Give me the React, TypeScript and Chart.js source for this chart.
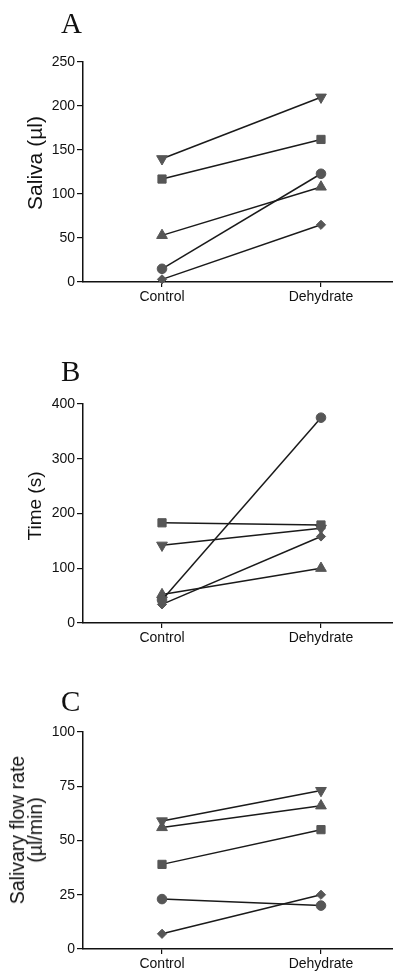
import React, { useEffect, useRef } from 'react';
import { Chart, registerables } from 'chart.js';

Chart.register(...registerables);

// ---- data ----
const categories = ['Control', 'Dehydrate'];

// Panel A: Saliva (µl)
const salivaTriangleDown = [140, 210];
const salivaSquare = [117, 162];
const salivaTriangleUp = [53, 108];
const salivaCircle = [15, 123];
const salivaDiamond = [3, 65];

// Panel B: Time (s)
const timeCircle = [42, 375];
const timeSquare = [183, 179];
const timeTriangleDown = [142, 173];
const timeTriangleUp = [52, 100];
const timeDiamond = [34, 158];

// Panel C: Salivary flow rate (µl/min)
const flowTriangleDown = [59, 73];
const flowTriangleUp = [56, 66];
const flowSquare = [39, 55];
const flowCircle = [23, 20];
const flowDiamond = [7, 25];

const yTicksA = { max: 250, step: 50 };
const yTicksB = { max: 400, step: 100 };
const yTicksC = { max: 100, step: 25 };

// ---- styles ----
const FONT = '"Liberation Sans", Arial, Helvetica, sans-serif';
const SERIF = '"Liberation Serif", "Times New Roman", serif';
const LINE = '#1a1a1a';
const MARK = '#565656';
const AXIS = '#111111';

type MarkerKey = 'circle' | 'square' | 'triangleUp' | 'triangleDown' | 'diamond';
const MARKERS: Record<MarkerKey, { style: string; rotation: number; radius: number }> = {
  circle: { style: 'circle', rotation: 0, radius: 4.8 },
  square: { style: 'rect', rotation: 0, radius: 5.8 },
  triangleUp: { style: 'triangle', rotation: 0, radius: 6.2 },
  triangleDown: { style: 'triangle', rotation: 180, radius: 6.2 },
  diamond: { style: 'rectRot', rotation: 0, radius: 4.6 },
};

type Series = { marker: MarkerKey; values: number[] };

const X_MIN = -0.497;
const X_MAX = 1.453;

function Panel(props: {
  top: number;
  height: number;
  padTop: number;
  xHeight: number;
  yMax: number;
  yStep: number;
  series: Series[];
}) {
  const ref = useRef<HTMLCanvasElement>(null);
  const { top, height, padTop, xHeight, yMax, yStep, series } = props;
  useEffect(() => {
    const canvas = ref.current;
    if (!canvas) return;
    const chart = new Chart(canvas, {
      type: 'line',
      data: {
        datasets: series.map((s) => {
          const m = MARKERS[s.marker];
          return {
            label: s.marker,
            data: s.values.map((v, i) => ({ x: i, y: v })),
            borderColor: LINE,
            borderWidth: 1.5,
            backgroundColor: MARK,
            pointBackgroundColor: MARK,
            pointBorderColor: MARK,
            pointBorderWidth: 1,
            pointStyle: m.style as any,
            pointRotation: m.rotation,
            pointRadius: m.radius,
            fill: false,
            tension: 0,
            clip: false,
          };
        }),
      },
      options: {
        responsive: false,
        animation: false,
        events: [],
        layout: { autoPadding: false, padding: { top: padTop, left: 0, right: 0, bottom: 0 } },
        plugins: { legend: { display: false }, tooltip: { enabled: false } },
        scales: {
          x: {
            type: 'linear',
            min: X_MIN,
            max: X_MAX,
            afterBuildTicks: (s: any) => {
              s.ticks = categories.map((_, i) => ({ value: i }));
            },
            afterFit: (s: any) => {
              s.height = xHeight;
              s.paddingLeft = 0;
              s.paddingRight = 0;
              s.paddingTop = 0;
              s.paddingBottom = 0;
            },
            ticks: {
              callback: (v: any) => categories[v as number] ?? '',
              font: { family: FONT, size: 14 },
              color: AXIS,
              padding: 2,
              maxRotation: 0,
              autoSkip: false,
            },
            grid: { drawOnChartArea: false, drawTicks: true, tickLength: 5, color: AXIS, lineWidth: 1.2 },
            border: { display: true, color: AXIS, width: 1.5 },
          },
          y: {
            type: 'linear',
            min: 0,
            max: yMax,
            afterFit: (s: any) => {
              s.width = 83;
              s.paddingTop = 0;
              s.paddingBottom = 0;
              s.paddingLeft = 0;
              s.paddingRight = 0;
            },
            ticks: {
              stepSize: yStep,
              font: { family: FONT, size: 14 },
              color: AXIS,
              padding: 2,
            },
            grid: { drawOnChartArea: false, drawTicks: true, tickLength: 6, color: AXIS, lineWidth: 1.2 },
            border: { display: true, color: AXIS, width: 1.5 },
          },
        },
      },
    } as any);
    return () => chart.destroy();
  }, []);
  return (
    <canvas
      ref={ref}
      width={393}
      height={height}
      style={{ position: 'absolute', left: 0, top, width: 393, height, display: 'block' }}
    />
  );
}

function Letter({ text, top }: { text: string; top: number }) {
  return (
    <div
      style={{
        position: 'absolute',
        left: 61,
        top,
        fontFamily: SERIF,
        fontSize: 29,
        lineHeight: '29px',
        color: '#111',
      }}
    >
      {text}
    </div>
  );
}

function YTitle({ lines, cx, cy, lh, size }: { lines: string[]; cx: number; cy: number; lh: number; size: number }) {
  return (
    <div
      style={{
        position: 'absolute',
        left: cx,
        top: cy,
        transform: 'translate(-50%, -50%) rotate(-90deg)',
        fontFamily: FONT,
        fontSize: size,
        lineHeight: `${lh}px`,
        whiteSpace: 'nowrap',
        textAlign: 'center',
        color: '#111',
      }}
    >
      {lines.map((l, i) => (
        <div key={i}>{l}</div>
      ))}
    </div>
  );
}

export default function App() {
  const seriesA: Series[] = [
    { marker: 'triangleDown', values: salivaTriangleDown },
    { marker: 'square', values: salivaSquare },
    { marker: 'triangleUp', values: salivaTriangleUp },
    { marker: 'circle', values: salivaCircle },
    { marker: 'diamond', values: salivaDiamond },
  ];
  const seriesB: Series[] = [
    { marker: 'circle', values: timeCircle },
    { marker: 'square', values: timeSquare },
    { marker: 'triangleDown', values: timeTriangleDown },
    { marker: 'triangleUp', values: timeTriangleUp },
    { marker: 'diamond', values: timeDiamond },
  ];
  const seriesC: Series[] = [
    { marker: 'triangleDown', values: flowTriangleDown },
    { marker: 'triangleUp', values: flowTriangleUp },
    { marker: 'square', values: flowSquare },
    { marker: 'circle', values: flowCircle },
    { marker: 'diamond', values: flowDiamond },
  ];
  return (
    <div style={{ position: 'absolute', left: 0, top: 0, width: 393, height: 971, background: '#fff', overflow: 'hidden' }}>
      <Panel top={0} height={320} padTop={62} xHeight={38} yMax={yTicksA.max} yStep={yTicksA.step} series={seriesA} />
      <Panel top={320} height={330} padTop={84} xHeight={27} yMax={yTicksB.max} yStep={yTicksB.step} series={seriesB} />
      <Panel top={650} height={321} padTop={82} xHeight={22} yMax={yTicksC.max} yStep={yTicksC.step} series={seriesC} />
      <Letter text="A" top={9} />
      <Letter text="B" top={357} />
      <Letter text="C" top={687} />
      <YTitle lines={['Saliva (µl)']} cx={34.5} cy={162.5} lh={22} size={21} />
      <YTitle lines={['Time (s)']} cx={34.5} cy={506} lh={20} size={19} />
      <YTitle lines={['Salivary flow rate', '(µl/min)']} cx={26} cy={830} lh={18} size={19.5} />
    </div>
  );
}
